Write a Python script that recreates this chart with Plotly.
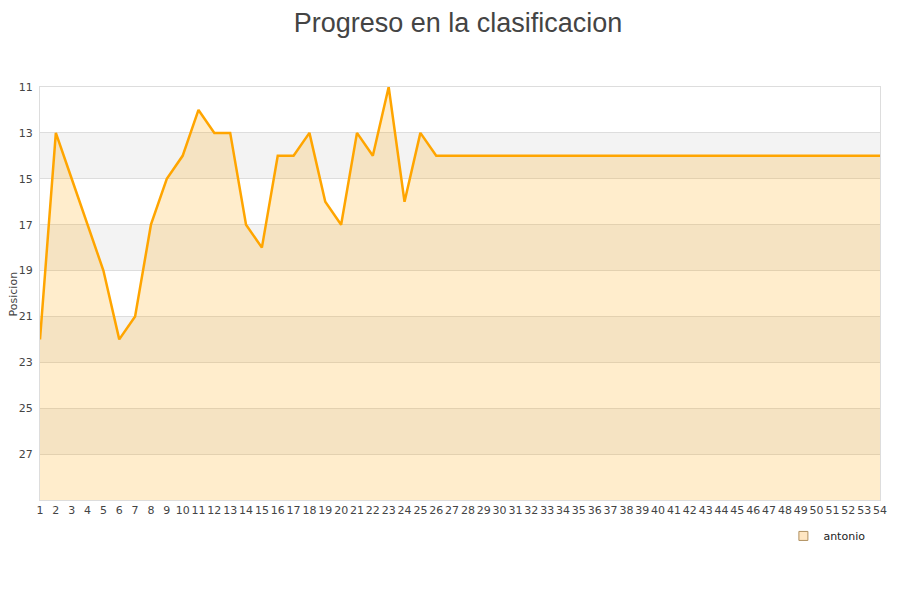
import plotly.graph_objects as go

jornadas = list(range(1, 55))
posicion = [22, 13, 15, 17, 19, 22, 21, 17, 15, 14,
            12, 13, 13, 17, 18, 14, 14, 13, 16, 17,
            13, 14, 11, 16, 13] + [14] * 29
y_ticks = [11, 13, 15, 17, 19, 21, 23, 25, 27]
y_min, y_max = 11, 29

fig = go.Figure()
# baseline for area fill
fig.add_trace(go.Scatter(x=jornadas, y=[y_max] * len(jornadas), mode="lines",
                         line=dict(width=0, color="rgba(0,0,0,0)"),
                         showlegend=False, hoverinfo="skip"))
fig.add_trace(go.Scatter(x=jornadas, y=posicion, mode="lines",
                         line=dict(color="#ffa500", width=2.5),
                         fill="tonexty", fillcolor="rgba(255,165,0,0.2)",
                         showlegend=False, name="antonio"))
fig.add_trace(go.Scatter(x=[None], y=[None], mode="markers", name="antonio",
                         marker=dict(symbol="square", size=9,
                                     color="rgba(255,200,120,0.45)",
                                     line=dict(color="#b09060", width=1))))

shapes = []
for i, lo in enumerate(range(y_min, y_max, 2)):
    if i % 2 == 1:
        shapes.append(dict(type="rect", xref="paper", yref="y", x0=0, x1=1,
                           y0=lo, y1=lo + 2, fillcolor="#f3f3f3",
                           line=dict(width=0), layer="below"))

fig.update_layout(
    width=900, height=600,
    margin=dict(l=32, r=28, t=79, b=108, autoexpand=False),
    paper_bgcolor="white", plot_bgcolor="white",
    title=dict(text="Progreso en la clasificacion", x=0.5, xanchor="center",
               y=0.992, yanchor="top", pad=dict(t=0, b=0),
               font=dict(family="Liberation Sans, Arial, sans-serif", size=27, color="#444")),
    shapes=shapes,
    font=dict(family="DejaVu Sans, sans-serif", size=11, color="#444"),
    legend=dict(x=0.885, y=-0.087, xanchor="left", yanchor="middle",
                bgcolor="rgba(0,0,0,0)", font=dict(size=11, color="#222")),
    showlegend=True,
    annotations=[dict(text="Posicion", xref="paper", yref="paper",
                      x=-0.031, y=0.5, xanchor="center", yanchor="middle",
                      textangle=-90, showarrow=False,
                      font=dict(size=11, color="#444"))],
)
fig.update_xaxes(range=[1, 54], tickmode="array", tickvals=jornadas,
                 ticktext=[str(j) for j in jornadas], showgrid=False,
                 showline=True, linecolor="#dddddd", mirror=True, zeroline=False,
                 ticks="", tickangle=0, automargin=False,
                 tickfont=dict(size=11, color="#444"))
fig.update_yaxes(range=[y_max, y_min], tickmode="array", tickvals=y_ticks,
                 showgrid=True, gridcolor="#dddddd", showline=True,
                 linecolor="#dddddd", mirror=True, zeroline=False, ticks="",
                 automargin=False, ticklabelstandoff=4,
                 tickfont=dict(size=11, color="#444"))

fig.write_html("out.html")
